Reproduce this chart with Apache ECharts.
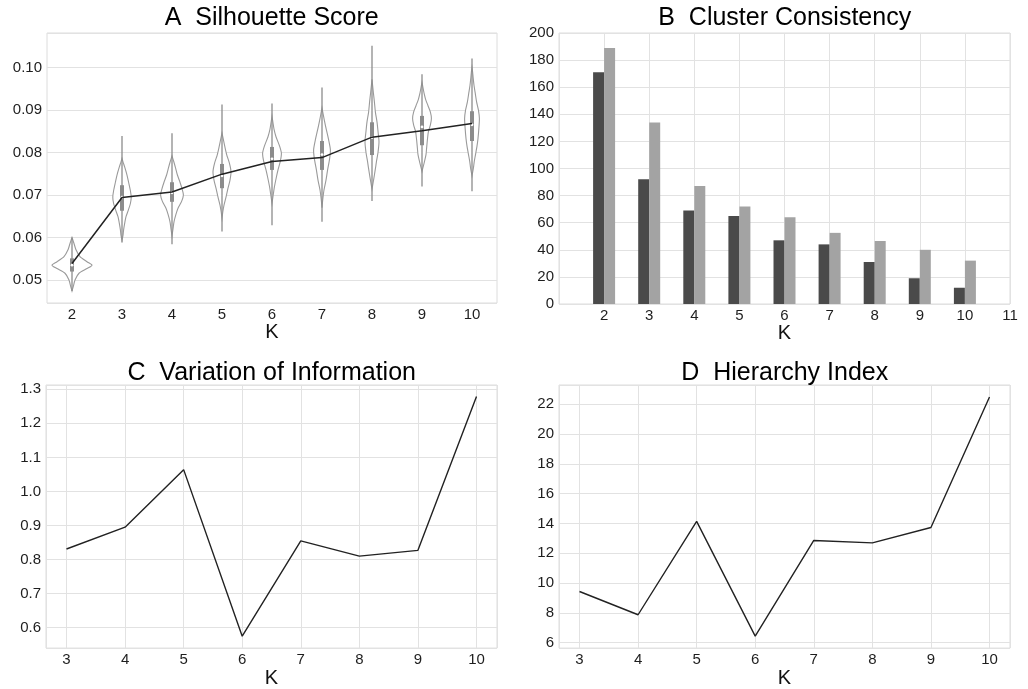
<!DOCTYPE html>
<html><head><meta charset="utf-8">
<script src="https://cdn.jsdelivr.net/npm/echarts@6/dist/echarts.min.js"></script>
<style>html,body{margin:0;padding:0;background:#fff}#c{width:1028px;height:689px}</style>
</head><body><div id="c"></div>
<script>
// ---------- Panel A: Silhouette Score (violins) ----------
const silK = ['2','3','4','5','6','7','8','9','10'];
const silMean = [0.0539,0.0694,0.0707,0.0749,0.0779,0.0788,0.0836,0.0851,0.0868];
const silWhiskLo = [0.0474,0.0588,0.0584,0.0614,0.0629,0.0637,0.0686,0.0720,0.0709];
const silWhiskHi = [0.0600,0.0839,0.0845,0.0913,0.0915,0.0953,0.1051,0.0984,0.1021];
const silQ1 = [0.0520,0.0663,0.0684,0.0716,0.0759,0.0759,0.0794,0.0817,0.0827];
const silQ3 = [0.0551,0.0723,0.0730,0.0773,0.0813,0.0827,0.0871,0.0886,0.0897];
const silMedian = [0.0535,0.0695,0.0705,0.0745,0.0785,0.0795,0.0835,0.0860,0.0865];
// density profile per K: [score, relative density]
const silDensity = [
 [[0.0474,0],[0.0484,0.06],[0.0500,0.15],[0.0516,0.35],[0.0527,0.75],[0.0535,1.0],[0.0543,0.75],[0.0555,0.4],[0.0571,0.2],[0.0586,0.1],[0.0600,0]],
 [[0.0594,0],[0.0605,0.05],[0.0618,0.08],[0.0635,0.14],[0.0649,0.2],[0.0665,0.32],[0.0680,0.42],[0.0695,0.46],[0.0710,0.42],[0.0730,0.33],[0.0747,0.25],[0.0765,0.14],[0.0778,0.05],[0.0786,0]],
 [[0.0604,0],[0.0620,0.05],[0.0637,0.1],[0.0655,0.2],[0.0669,0.3],[0.0685,0.48],[0.0700,0.57],[0.0715,0.5],[0.0730,0.4],[0.0747,0.27],[0.0765,0.17],[0.0780,0.08],[0.0792,0]],
 [[0.0645,0],[0.0660,0.04],[0.0676,0.1],[0.0695,0.2],[0.0716,0.3],[0.0735,0.4],[0.0755,0.45],[0.0775,0.37],[0.0794,0.24],[0.0812,0.15],[0.0830,0.07],[0.0846,0]],
 [[0.0680,0],[0.0700,0.06],[0.0719,0.12],[0.0740,0.21],[0.0759,0.3],[0.0780,0.42],[0.0798,0.47],[0.0815,0.38],[0.0837,0.2],[0.0855,0.1],[0.0870,0.05],[0.0885,0]],
 [[0.0670,0],[0.0690,0.04],[0.0712,0.1],[0.0735,0.2],[0.0759,0.28],[0.0785,0.38],[0.0806,0.42],[0.0830,0.33],[0.0853,0.22],[0.0875,0.12],[0.0892,0.05],[0.0905,0]],
 [[0.0714,0],[0.0730,0.06],[0.0747,0.12],[0.0765,0.18],[0.0778,0.22],[0.0800,0.3],[0.0825,0.35],[0.0850,0.3],[0.0872,0.25],[0.0895,0.17],[0.0919,0.12],[0.0940,0.07],[0.0958,0.03],[0.0972,0]],
 [[0.0755,0],[0.0765,0.05],[0.0778,0.12],[0.0795,0.2],[0.0810,0.23],[0.0830,0.27],[0.0849,0.32],[0.0865,0.42],[0.0880,0.47],[0.0895,0.42],[0.0910,0.3],[0.0925,0.18],[0.0940,0.1],[0.0955,0.04],[0.0965,0]],
 [[0.0745,0],[0.0763,0.07],[0.0778,0.11],[0.0794,0.17],[0.0815,0.25],[0.0833,0.3],[0.0855,0.34],[0.0880,0.37],[0.0900,0.32],[0.0919,0.23],[0.0940,0.16],[0.0958,0.1],[0.0975,0.06],[0.0990,0.03],[0.1000,0]]
];

// ---------- Panel B: Cluster Consistency ----------
const ccK = ['1','2','3','4','5','6','7','8','9','10','11'];
const ccDark = [null,171,92,69,65,47,44,31,19,12,null];
const ccLight = [null,189,134,87,72,64,52.5,46.5,40,32,null];

// ---------- Panel C: Variation of Information ----------
const viK = [3,4,5,6,7,8,9,10];
const viVal = [0.831,0.895,1.064,0.575,0.855,0.810,0.827,1.279];

// ---------- Panel D: Hierarchy Index ----------
const hiK = [3,4,5,6,7,8,9,10];
const hiVal = [9.43,7.87,14.14,6.43,12.86,12.70,13.73,22.50];

const FONT = '"Liberation Sans", Arial, Helvetica, sans-serif';
const GRID_C = '#e2e2e2';
const LBL = {color:'#1e1e1e', fontSize:15, fontFamily:FONT};

function near(v, step){ const r = Math.round(v/step)*step; return Math.abs(v-r) < step*1e-3; }

const grids = [
  {left:47, top:33, width:450, height:270},
  {left:559, top:33, width:451, height:271},
  {left:46, top:385, width:451, height:270},
  {left:559, top:385, width:451, height:270}
];

const chart = echarts.init(document.getElementById('c'), null, {renderer:'canvas'});

function xName(){ return {name:'K', nameLocation:'middle', nameGap:17, nameTextStyle:{color:'#111', fontSize:20, fontFamily:FONT}}; }
function title(t, x, y){ return {type:'text', x:x, y:y, style:{text:t, font:'25px '+FONT, fill:'#000', align:'center', verticalAlign:'middle'}}; }

const option = {
  backgroundColor:'#fff',
  animation:false,
  grid: grids.map(g => Object.assign({show:true, borderColor:'#dcdcdc', borderWidth:1, containLabel:false}, g)),
  graphic: [
    title('A  Silhouette Score', 271.7, 18),
    title('B  Cluster Consistency', 784.7, 18),
    title('C  Variation of Information', 271.7, 373),
    title('D  Hierarchy Index', 784.7, 373)
  ],
  xAxis: [
    Object.assign({gridIndex:0, type:'category', data:silK, boundaryGap:true,
      axisLine:{show:false}, axisTick:{show:false}, splitLine:{show:false},
      axisLabel:Object.assign({margin:4}, LBL)}, xName()),
    Object.assign({gridIndex:1, type:'category', data:ccK, boundaryGap:false,
      axisLine:{show:false}, axisTick:{show:false},
      splitLine:{show:true, lineStyle:{color:GRID_C, width:1}},
      axisLabel:Object.assign({margin:4, interval:0, formatter:v => v==='1' ? '' : v}, LBL)}, xName()),
    Object.assign({gridIndex:2, type:'value', min:2.65, max:10.35, splitNumber:8,
      axisLine:{show:false}, axisTick:{show:false},
      splitLine:{show:true, lineStyle:{color:GRID_C, width:1}},
      axisLabel:Object.assign({margin:4, showMinLabel:false, showMaxLabel:false, formatter:v => near(v,1)? String(Math.round(v)) : ''}, LBL)}, xName()),
    Object.assign({gridIndex:3, type:'value', min:2.65, max:10.35, splitNumber:8,
      axisLine:{show:false}, axisTick:{show:false},
      splitLine:{show:true, lineStyle:{color:GRID_C, width:1}},
      axisLabel:Object.assign({margin:4, showMinLabel:false, showMaxLabel:false, formatter:v => near(v,1)? String(Math.round(v)) : ''}, LBL)}, xName())
  ],
  yAxis: [
    {gridIndex:0, type:'value', min:0.0446, max:0.1081, splitNumber:6,
      axisLine:{show:false}, axisTick:{show:false},
      splitLine:{show:true, lineStyle:{color:GRID_C, width:1}},
      axisLabel:Object.assign({margin:5, showMinLabel:false, showMaxLabel:false, formatter:v => near(v,0.01)? v.toFixed(2) : ''}, LBL)},
    {gridIndex:1, type:'value', min:0, max:200, interval:20,
      axisLine:{show:false}, axisTick:{show:false},
      splitLine:{show:true, lineStyle:{color:GRID_C, width:1}},
      axisLabel:Object.assign({margin:5}, LBL)},
    {gridIndex:2, type:'value', min:0.54, max:1.3125, splitNumber:8,
      axisLine:{show:false}, axisTick:{show:false},
      splitLine:{show:true, lineStyle:{color:GRID_C, width:1}},
      axisLabel:Object.assign({margin:5, showMinLabel:false, showMaxLabel:false, formatter:v => near(v,0.1)? v.toFixed(1) : ''}, LBL)},
    {gridIndex:3, type:'value', min:5.63, max:23.3, splitNumber:8,
      axisLine:{show:false}, axisTick:{show:false},
      splitLine:{show:true, lineStyle:{color:GRID_C, width:1}},
      axisLabel:Object.assign({margin:5, showMinLabel:false, showMaxLabel:false, formatter:v => near(v,2)? String(Math.round(v)) : ''}, LBL)}
  ],
  series: [
    {
      type:'custom', xAxisIndex:0, yAxisIndex:0, z:2,
      data: silK.map((k,i) => [i, silMedian[i]]),
      encode:{x:0, y:1},
      renderItem: function(params, api){
        const i = api.value(0);
        const bw = api.size([1,0])[0];
        const half = bw*0.4;
        const prof = silDensity[i];
        const right = prof.map(p => { const c = api.coord([i, p[0]]); return [c[0] + p[1]*half, c[1]]; });
        const left = prof.slice().reverse().map(p => { const c = api.coord([i, p[0]]); return [c[0] - p[1]*half, c[1]]; });
        const wl = api.coord([i, silWhiskLo[i]]), wh = api.coord([i, silWhiskHi[i]]);
        const q1 = api.coord([i, silQ1[i]]), q3 = api.coord([i, silQ3[i]]);
        const md = api.coord([i, silMedian[i]]);
        return {type:'group', children:[
          {type:'polygon', shape:{points:right.concat(left), smooth:0.25}, style:{fill:'#fff', stroke:'#9a9a9a', lineWidth:1.1}},
          {type:'line', shape:{x1:wl[0], y1:wl[1], x2:wh[0], y2:wh[1]}, style:{stroke:'#8c8c8c', lineWidth:1.3}},
          {type:'rect', shape:{x:q3[0]-2, y:q3[1], width:4, height:q1[1]-q3[1]}, style:{fill:'#8c8c8c'}},
          {type:'circle', shape:{cx:md[0], cy:md[1], r:1.4}, style:{fill:'#fff'}}
        ]};
      }
    },
    {type:'line', xAxisIndex:0, yAxisIndex:0, z:5, data:silMean, symbol:'none',
      lineStyle:{color:'#222', width:1.5}},
    {type:'bar', xAxisIndex:1, yAxisIndex:1, data:ccDark, barWidth:11, barGap:'0%',
      itemStyle:{color:'#4a4a4a'}},
    {type:'bar', xAxisIndex:1, yAxisIndex:1, data:ccLight, barWidth:11, barGap:'0%',
      itemStyle:{color:'#a3a3a3'}},
    {type:'line', xAxisIndex:2, yAxisIndex:2, data:viK.map((k,i)=>[k, viVal[i]]), symbol:'none',
      lineStyle:{color:'#222', width:1.4}},
    {type:'line', xAxisIndex:3, yAxisIndex:3, data:hiK.map((k,i)=>[k, hiVal[i]]), symbol:'none',
      lineStyle:{color:'#222', width:1.4}}
  ]
};
chart.setOption(option);
</script>
</body></html>
